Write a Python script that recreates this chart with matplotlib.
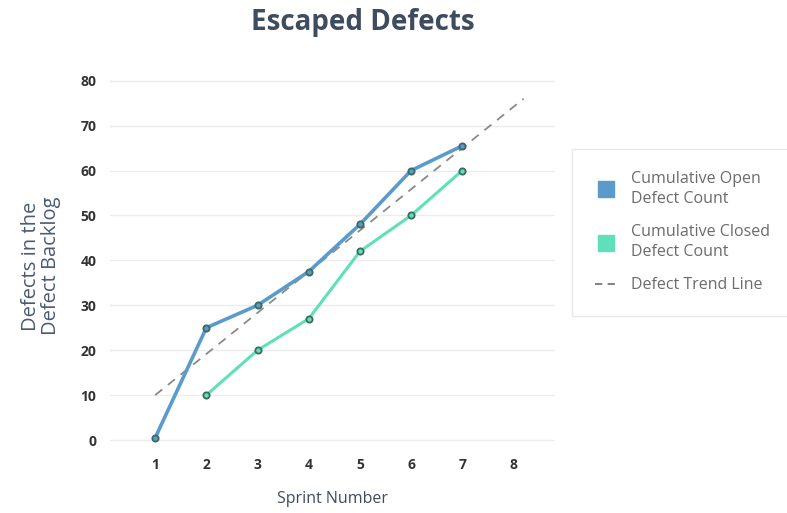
"""Escaped Defects: cumulative open / closed defect counts per sprint, with trend line."""

import matplotlib

matplotlib.use("Agg")
import matplotlib.pyplot as plt
from matplotlib.lines import Line2D

plt.rcParams["font.family"] = ["Open Sans", "DejaVu Sans"]

# data
sprints_open = [1, 2, 3, 4, 5, 6, 7]
open_count = [0.5, 25, 30, 37.5, 48, 60, 65.5]
sprints_closed = [2, 3, 4, 5, 6, 7]
closed_count = [10, 20, 27, 42, 50, 60]
trend_x = [1, 8.2]
trend_y = [10, 76]
x_ticks = [1, 2, 3, 4, 5, 6, 7, 8]
y_ticks = [0, 10, 20, 30, 40, 50, 60, 70, 80]

C_OPEN = "#5b9bcb"
C_CLOSED = "#5fe0bb"
C_EDGE = "#3b6a5f"
C_TEXT = "#3f4b5e"
C_GRID = "#ececec"

fig = plt.figure(figsize=(7.87, 5.13), dpi=100)
ax = fig.add_axes([0.14, 0.116, 0.565, 0.731])

for y in y_ticks:
    ax.axhline(y, color=C_GRID, lw=1.0, zorder=0)

ax.plot(trend_x, trend_y, color="#8a8a8a", lw=1.3, ls=(0, (5, 4)), zorder=2)
ax.plot(sprints_open, open_count, color=C_OPEN, lw=2.6, marker="o", ms=4.5,
        mfc=C_OPEN, mec=C_EDGE, mew=1.3, zorder=3)
ax.plot(sprints_closed, closed_count, color=C_CLOSED, lw=2.2, marker="o", ms=4.5,
        mfc=C_CLOSED, mec=C_EDGE, mew=1.3, zorder=3)

ax.set_xlim(0.12, 8.81)
ax.set_ylim(-3, 80.5)
ax.set_xticks(x_ticks)
ax.set_yticks(y_ticks)
ax.tick_params(length=0, labelsize=10, labelcolor="#333333")
ax.tick_params(axis="y", pad=10)
ax.tick_params(axis="x", pad=3)
for lab in ax.get_xticklabels() + ax.get_yticklabels():
    lab.set_fontweight("bold")
for s in ax.spines.values():
    s.set_visible(False)

ax.set_xlabel("Sprint Number", fontsize=11.5, color=C_TEXT, labelpad=14)
ax.set_ylabel("Defects in the\nDefect Backlog", fontsize=14.5, color="#4a5a75", labelpad=14,
              linespacing=1.0)
fig.text(0.461, 0.957, "Escaped Defects", fontsize=20, fontweight="bold", color=C_TEXT,
         ha="center", va="center")

handles = [
    Line2D([], [], ls="none", marker="s", ms=11, mfc=C_OPEN, mec=C_OPEN),
    Line2D([], [], ls="none", marker="s", ms=11, mfc=C_CLOSED, mec=C_CLOSED),
    Line2D([], [], color="#777777", lw=1.3, ls=(0, (4, 3))),
]
labels = ["Cumulative Open\nDefect Count", "Cumulative Closed\nDefect Count",
          "Defect Trend Line"]
leg = fig.legend(handles, labels, loc="upper left", bbox_to_anchor=(0.727, 0.71),
                 frameon=True, fontsize=11.5, labelcolor="#6b6b6b", handlelength=1.5,
                 handletextpad=0.8, borderpad=1.4, labelspacing=1.1, fancybox=False,
                 edgecolor="#e4e4e4", borderaxespad=0)
leg.get_frame().set_linewidth(1.0)
for t in leg.get_texts():
    t.set_linespacing(1.3)

fig.savefig("out.png", dpi=100)
